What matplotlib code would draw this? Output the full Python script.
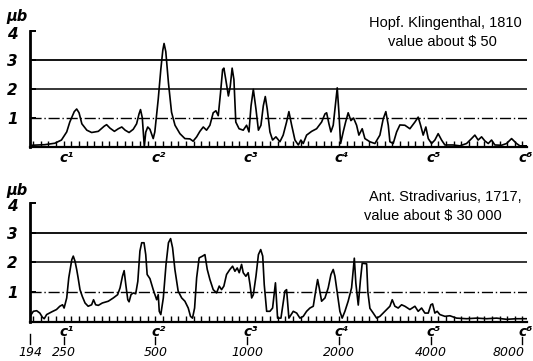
import matplotlib
matplotlib.use("Agg")
import matplotlib.pyplot as plt
import matplotlib.transforms as mtransforms

# response curves, amplitude in microbar against frequency in Hz
hopf_freq = [197, 217, 234, 246, 256, 262, 271, 276, 281, 287, 298, 309, 325, 340, 346,
             355, 367, 378, 388, 398, 410, 423, 434, 442, 447, 453, 458, 460, 465, 472,
             480, 492, 498, 511, 521, 529, 534, 541, 552, 565, 580, 602, 625, 649, 665,
             683, 700, 718, 736, 755, 774, 790, 804, 818, 831, 839, 851, 868, 880, 893,
             905, 918, 941, 971, 996, 1014, 1030, 1048, 1069, 1089, 1110, 1130, 1147,
             1164, 1188, 1212, 1243, 1281, 1313, 1347, 1371, 1400, 1435, 1472, 1501,
             1528, 1567, 1628, 1690, 1755, 1800, 1823, 1855, 1883, 1916, 1951, 1975,
             2000, 2026, 2066, 2104, 2145, 2190, 2234, 2286, 2326, 2385, 2434, 2528,
             2625, 2726, 2795, 2851, 2904, 2940, 3014, 3093, 3170, 3292, 3419, 3551,
             3640, 3707, 3780, 3857, 3928, 4027, 4129, 4233, 4343, 4453, 4741, 4987,
             5246, 5447, 5585, 5725, 5875, 6023, 6179, 6336, 6496, 6832, 7095, 7369,
             7653, 7845, 8252]
hopf_amp = [0.05, 0.07, 0.12, 0.23, 0.51, 0.85, 1.21, 1.30, 1.17, 0.79, 0.57, 0.49, 0.53,
            0.71, 0.76, 0.64, 0.53, 0.62, 0.68, 0.57, 0.49, 0.60, 0.79, 1.13, 1.28, 1.00,
            0.28, 0.00, 0.50, 0.68, 0.60, 0.28, 0.51, 1.64, 2.66, 3.33, 3.56, 3.28, 2.20,
            1.19, 0.74, 0.45, 0.28, 0.27, 0.19, 0.34, 0.53, 0.68, 0.57, 0.74, 1.17, 1.24,
            1.07, 1.86, 2.66, 2.71, 2.32, 1.75, 2.07, 2.71, 2.32, 0.85, 0.62, 0.57, 0.74,
            0.51, 1.41, 1.98, 1.30, 0.57, 0.74, 1.41, 1.73, 1.30, 0.51, 0.23, 0.34, 0.17,
            0.40, 0.85, 1.21, 0.74, 0.23, 0.06, 0.23, 0.11, 0.40, 0.53, 0.62, 0.85, 1.13,
            1.17, 0.79, 0.51, 0.74, 1.53, 2.03, 1.19, 0.11, 0.51, 0.85, 1.17, 0.90, 0.99,
            0.74, 0.40, 0.62, 0.28, 0.17, 0.11, 0.40, 0.96, 1.21, 0.74, 0.17, 0.11, 0.51,
            0.75, 0.74, 0.62, 0.85, 1.02, 0.74, 0.40, 0.68, 0.28, 0.11, 0.23, 0.45, 0.23,
            0.06, 0.06, 0.03, 0.11, 0.28, 0.40, 0.23, 0.34, 0.20, 0.11, 0.23, 0.06, 0.05,
            0.11, 0.28, 0.11, 0.03, 0.03]

strad_freq = [194, 199, 204, 209, 213, 216, 220, 228.5, 237, 243, 248, 251, 256, 260, 266,
              269, 272.5, 276, 279, 283, 288, 294, 301, 309, 313.5, 318.5, 325, 335, 350.5,
              364, 376, 383, 390, 395, 400, 406, 410, 416, 423, 431, 438, 445, 451, 459,
              465, 470, 480, 492, 505, 511, 515, 521, 531, 542, 552, 561, 569.5, 579.5,
              594, 610, 625, 641, 652, 662, 672.5, 683, 696, 714, 727, 740, 755, 774, 794,
              810, 824.5, 839, 856, 878, 896, 912, 928, 942, 959, 971, 990.5, 1008, 1022,
              1035, 1048, 1069, 1089, 1108, 1125, 1138, 1159, 1188, 1212, 1238.5, 1258.6,
              1291, 1330, 1347, 1371, 1417, 1454, 1490, 1528, 1567, 1607, 1648, 1678,
              1703, 1724, 1755, 1800, 1845, 1883, 1916, 1941, 1980, 2015, 2050, 2093,
              2145, 2201, 2247, 2273, 2315, 2353, 2385, 2466, 2489, 2528, 2592, 2659,
              2726, 2831, 2940, 2992, 3053, 3130, 3211, 3292, 3419, 3551, 3640, 3735,
              3829, 3928, 4006, 4058, 4129, 4201, 4288, 4453, 4624, 4864, 5246, 5657,
              6101, 6580, 7095, 7653, 8147, 8277]
strad_amp = [0.18, 0.35, 0.37, 0.29, 0.15, 0.10, 0.24, 0.33, 0.41, 0.52, 0.57, 0.46, 0.80,
             1.48, 2.09, 2.21, 2.04, 1.76, 1.48, 1.08, 0.85, 0.63, 0.52, 0.57, 0.74, 0.57,
             0.55, 0.63, 0.69, 0.80, 0.91, 1.14, 1.53, 1.72, 1.25, 0.74, 0.67, 0.91, 0.97,
             0.94, 1.36, 2.38, 2.66, 2.66, 2.26, 1.59, 1.45, 1.08, 0.74, 0.91, 0.35, 0.24,
             0.80, 1.93, 2.66, 2.80, 2.49, 1.76, 1.03, 0.80, 0.69, 0.46, 0.18, 0.12, 0.46,
             1.48, 2.15, 2.21, 2.26, 1.76, 1.42, 1.08, 0.97, 1.20, 1.08, 1.20, 1.59, 1.76,
             1.87, 1.70, 1.81, 1.65, 1.93, 1.65, 1.53, 1.65, 1.25, 0.80, 0.91, 1.53, 2.26,
             2.43, 2.21, 1.25, 0.35, 0.35, 0.46, 1.31, 0.12, 0.12, 1.03, 1.08, 0.12, 0.35,
             0.29, 0.12, 0.18, 0.35, 0.46, 0.52, 1.03, 1.42, 1.14, 0.69, 0.80, 1.14, 1.59,
             1.76, 1.53, 0.91, 0.35, 0.12, 0.35, 0.69, 1.14, 2.14, 1.30, 0.56, 1.40, 1.97,
             1.95, 1.00, 0.45, 0.29, 0.12, 0.18, 0.35, 0.52, 0.74, 0.52, 0.46, 0.57, 0.52,
             0.41, 0.52, 0.35, 0.46, 0.29, 0.29, 0.57, 0.60, 0.29, 0.35, 0.24, 0.18, 0.20,
             0.12, 0.10, 0.12, 0.10, 0.12, 0.08, 0.10, 0.10, 0.10]

c_names = ["c\u00b9", "c\u00b2", "c\u00b3", "c\u2074", "c\u2075", "c\u2076"]
c_freq = [256, 512, 1024, 2048, 4096, 8192]
hz_ticks = [194, 250, 500, 1000, 2000, 4000, 8000]
y_levels = [1, 2, 3, 4]

W, H = 533, 361
fig = plt.figure(figsize=(W / 100, H / 100), dpi=100)
fig.patch.set_facecolor("white")

ax_top = fig.add_axes([30 / W, 0.5936, 497 / W, 0.3213])
ax_bot = fig.add_axes([30 / W, 0.1089, 497 / W, 0.3288])


def draw_panel(ax, freq, amp, lines, line2_pos):
    ax.set_xscale("log", base=2)
    ax.set_xlim(194, 8280)
    ax.set_ylim(0, 4)
    ax.axhline(1, color="black", lw=1.0, ls=(0, (8, 2, 1, 2)))
    ax.axhline(2, color="black", lw=1.1)
    ax.axhline(3, color="black", lw=1.3)
    ax.plot(freq, amp, color="black", lw=1.2, solid_joinstyle="round")

    for s in ["top", "right"]:
        ax.spines[s].set_visible(False)
    ax.spines["left"].set_linewidth(2.0)
    ax.spines["bottom"].set_linewidth(1.6)

    # semitone marks along the frequency axis
    ax.set_xticks([], minor=False)
    ax.set_xticks([250 * 2 ** (k / 12) for k in range(-4, 61)], minor=True)
    ax.xaxis.set_minor_formatter(plt.NullFormatter())
    ax.tick_params(axis="x", which="minor", direction="in", length=4, width=1, color="black")

    ax.set_yticks(y_levels)
    ax.set_yticklabels([str(v) if v < 4 else "" for v in y_levels], fontsize=11,
                       fontweight="bold", fontstyle="italic")
    ax.tick_params(axis="y", direction="in", length=4, width=1.4, pad=9)
    # the top value sits a little below the end of the axis
    ax.text(-0.035, 3.88, "4", transform=mtransforms.blended_transform_factory(
        ax.transAxes, ax.transData), ha="center", va="center", fontsize=11,
        fontweight="bold", fontstyle="italic", clip_on=False)

    ax.text(0.99, lines[2], lines[0], transform=ax.transAxes, ha="right", va="center",
            fontsize=10.5, family="Liberation Sans")
    ax.text(line2_pos[0], line2_pos[1], lines[1], transform=ax.transAxes, ha="center",
            va="center", fontsize=10.5, family="Liberation Sans",
            bbox=dict(facecolor="white", edgecolor="none", pad=0.5))


draw_panel(ax_top, hopf_freq, hopf_amp, ["Hopf. Klingenthal, 1810", "value about $ 50", 1.07],
           (0.83, 0.905))
draw_panel(ax_bot, strad_freq, strad_amp,
           ["Ant. Stradivarius, 1717,", "value about $ 30 000", 1.05], (0.81, 0.89))

tr_top = mtransforms.blended_transform_factory(ax_top.transData, ax_top.transAxes)
for name, f in zip(c_names, c_freq):
    ax_top.text(f, -0.10, name, transform=tr_top, ha="center", va="center",
                fontsize=10, fontstyle="italic", fontweight="bold", clip_on=False)

tr_bot = mtransforms.blended_transform_factory(ax_bot.transData, ax_bot.transAxes)
for name, f in zip(c_names, c_freq):
    ax_bot.text(f, -0.085, name, transform=tr_bot, ha="center", va="center",
                fontsize=10, fontstyle="italic", fontweight="bold", clip_on=False)
for f in hz_ticks:
    top = -0.105 if f == 194 else -0.125
    ax_bot.plot([f, f], [top, -0.19], transform=tr_bot, color="black", lw=1.0,
                clip_on=False)
    if f == hz_ticks[-1]:
        ax_bot.text(f * 1.02, -0.26, str(f), transform=tr_bot, ha="right", va="center",
                    fontsize=9, fontstyle="italic", clip_on=False)
    else:
        ax_bot.text(f, -0.26, str(f), transform=tr_bot, ha="center", va="center",
                    fontsize=9, fontstyle="italic", clip_on=False)

for yy in [1 - 17 / H, 1 - 190 / H]:
    fig.text(17 / W, yy, "\u03bcb", ha="center", va="center", fontsize=10.5,
             fontweight="bold", fontstyle="italic")

fig.savefig("out.png", dpi=100, facecolor="white")
